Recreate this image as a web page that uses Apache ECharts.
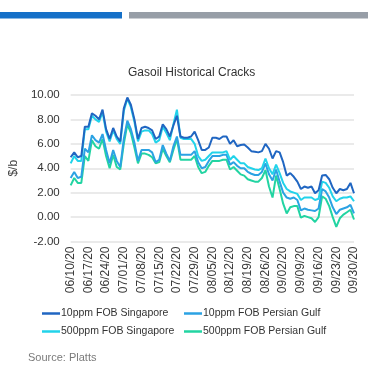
<!DOCTYPE html>
<html><head><meta charset="utf-8">
<script src="https://cdn.jsdelivr.net/npm/echarts@6/dist/echarts.min.js"></script>
<style>html,body{margin:0;padding:0;background:#fff}#c{width:368px;height:375px}</style>
</head><body><div id="c"></div>
<script>
var dates = ["06/10/20","06/11/20","06/12/20","06/15/20","06/16/20","06/17/20","06/18/20","06/19/20","06/22/20","06/23/20",
"06/24/20","06/25/20","06/26/20","06/29/20","06/30/20","07/01/20","07/02/20","07/03/20","07/06/20","07/07/20",
"07/08/20","07/09/20","07/10/20","07/13/20","07/14/20","07/15/20","07/16/20","07/17/20","07/20/20","07/21/20",
"07/22/20","07/23/20","07/24/20","07/27/20","07/28/20","07/29/20","07/30/20","07/31/20","08/03/20","08/04/20",
"08/05/20","08/06/20","08/07/20","08/10/20","08/11/20","08/12/20","08/13/20","08/14/20","08/17/20","08/18/20",
"08/19/20","08/20/20","08/21/20","08/24/20","08/25/20","08/26/20","08/27/20","08/28/20","08/31/20","09/01/20",
"09/02/20","09/03/20","09/04/20","09/07/20","09/08/20","09/09/20","09/10/20","09/11/20","09/14/20","09/15/20",
"09/16/20","09/17/20","09/18/20","09/21/20","09/22/20","09/23/20","09/24/20","09/25/20","09/28/20","09/29/20","09/30/20"];

var sing10 = [4.9,5.3,4.9,5.0,7.4,7.4,8.5,8.3,8.0,8.8,
7.2,6.4,7.3,6.6,6.2,8.9,9.8,9.2,8.0,6.4,
7.3,7.4,7.3,7.1,6.4,6.6,7.6,7.2,6.6,7.5,
8.3,6.6,6.5,6.5,6.6,7.0,6.3,5.5,5.5,5.7,
6.5,6.5,6.4,6.6,6.6,6.0,6.3,5.8,5.9,5.95,
5.7,5.4,5.35,5.3,5.4,6.0,5.6,4.8,5.4,5.3,
4.5,3.4,3.6,3.3,2.9,2.3,2.5,2.4,2.5,1.95,
2.2,3.4,3.45,3.1,2.4,1.95,2.3,2.2,2.3,2.8,1.95];

var pg10 = [3.2,3.7,3.2,3.3,5.6,5.3,6.7,6.3,6.1,6.8,
5.5,4.4,5.5,4.6,4.1,6.4,7.9,7.2,6.1,4.6,
5.5,5.5,5.5,5.3,4.5,4.7,5.9,5.2,4.6,5.8,
6.6,5.1,5.1,5.1,5.1,5.4,4.5,4.0,4.1,4.6,
5.0,5.0,5.0,5.1,5.1,4.3,4.5,4.2,4.0,4.0,
3.7,3.55,3.45,3.45,3.7,4.4,3.5,3.0,3.9,2.9,
2.0,1.6,1.5,1.6,1.4,0.55,0.7,0.6,0.55,0.5,
0.7,2.3,2.1,1.6,0.8,0.25,0.6,0.7,0.8,1.0,0.3];

var sing500 = [4.4,5.0,4.6,4.6,7.2,7.2,8.3,8.0,7.8,8.6,
7.0,6.2,7.1,6.4,6.0,8.7,9.7,9.0,7.8,6.2,
7.0,7.1,7.1,6.8,6.1,6.3,7.4,6.9,6.3,7.6,
8.8,6.5,6.4,6.4,6.4,6.0,5.0,4.6,4.7,5.0,
5.3,5.3,5.3,5.3,5.4,4.7,5.0,4.7,4.4,4.4,
4.1,4.0,3.9,3.85,4.0,4.8,4.0,3.5,4.3,3.6,
2.8,2.3,2.1,2.0,1.9,1.4,1.6,1.6,1.6,1.4,
1.5,2.9,2.8,2.4,1.7,1.3,1.5,1.6,1.6,1.7,1.3];

var pg500 = [2.6,3.2,2.8,2.8,5.0,4.6,6.3,5.8,5.6,6.4,
5.0,4.0,5.1,4.1,3.9,6.0,7.6,6.9,5.7,4.4,
5.2,5.2,5.1,4.9,4.4,4.5,5.6,5.0,4.5,5.5,
6.4,4.7,4.7,4.7,4.7,5.0,4.1,3.6,3.7,4.2,
4.6,4.6,4.6,4.7,4.7,3.9,4.1,3.8,3.5,3.4,
3.1,3.0,2.9,2.9,3.2,3.85,2.5,1.6,3.4,2.3,
1.1,0.3,0.8,0.9,0.9,-0.05,0.1,0.0,-0.1,-0.4,
0.0,1.7,1.5,0.9,0.0,-0.8,-0.1,0.2,0.4,0.6,-0.2];

var yTicks = [-2, 0, 2, 4, 6, 8, 10];
var names = ["10ppm FOB Singapore","10ppm FOB Persian Gulf","500ppm FOB Singapore","500ppm FOB Persian Gulf"];
var colors = ["#2066c2","#2ba2e3","#22d3ea","#22d4a2"];
var seriesData = [sing10, pg10, sing500, pg500];
var FONT = "Liberation Sans";

var chart = echarts.init(document.getElementById('c'), null, {renderer:'canvas'});
var legendPos = [[42,308],[184,308],[42,326],[184,326]];
var legends = names.map(function(n,k){
  return {data:[n], left:legendPos[k][0], top:legendPos[k][1], orient:'horizontal',
    icon:'rect', itemWidth:18, itemHeight:2.5, selectedMode:false, padding:0,
    textStyle:{fontFamily:FONT,fontSize:10.5,color:'#333',padding:[0,0,0,-4]}};
});
var order = [3,1,2,0];
var series = order.map(function(k){
  return {name:names[k], type:'line', data:seriesData[k], showSymbol:false, symbol:'none',
    lineStyle:{width:2,color:colors[k]}, itemStyle:{color:colors[k]}, z:2+order.indexOf(k)};
});
chart.setOption({
  animation:false,
  backgroundColor:'#fff',
  title:{text:'Gasoil Historical Cracks', left:128, top:67, padding:0,
    textStyle:{fontFamily:FONT,fontSize:12,fontWeight:'normal',color:'#333'}},
  legend:legends,
  grid:{left:65, right:14, top:95, bottom:133.5, containLabel:false},
  xAxis:{type:'category', data:dates, boundaryGap:false,
    axisLine:{show:false}, axisTick:{show:false},
    axisLabel:{interval:4, rotate:90, fontFamily:FONT, fontSize:12, color:'#3a3a3a', margin:5}},
  yAxis:{type:'value', min:yTicks[0], max:yTicks[yTicks.length-1], interval:2,
    name:'$/b', nameLocation:'middle', nameGap:40, nameRotate:90,
    nameTextStyle:{fontFamily:FONT,fontSize:12,color:'#444'},
    axisLine:{show:false}, axisTick:{show:false},
    axisLabel:{fontFamily:FONT,fontSize:11.5,color:'#333',margin:11,
      formatter:function(v){return v.toFixed(2);}},
    splitLine:{lineStyle:{color:'#e3e3e3',width:1.5}}},
  graphic:[
    {type:'rect', left:0, top:12, shape:{width:122,height:6.5}, style:{fill:'#1570c8'}},
    {type:'rect', left:129, top:12, shape:{width:239,height:6.5}, style:{fill:'#979ea7'}},
    {type:'text', left:28, top:352, style:{text:'Source: Platts', fontFamily:FONT, fontSize:11, fill:'#7a7a7a'}}
  ],
  series:series
});
</script></body></html>
